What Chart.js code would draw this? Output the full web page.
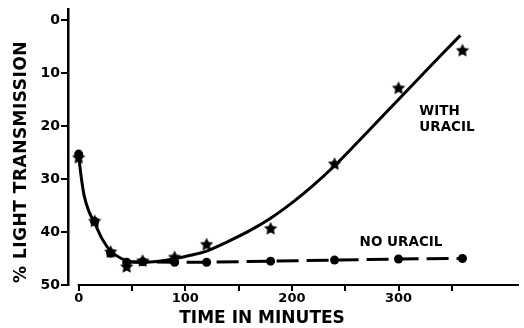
<!DOCTYPE html>
<html><head><meta charset="utf-8">
<script src="https://cdn.jsdelivr.net/npm/chart.js@4.4.1/dist/chart.umd.min.js"></script>
<style>html,body{margin:0;padding:0;background:#fff}</style>
</head><body>
<canvas id="c" width="524" height="328"></canvas>
<script>
// ---- data ----
const times      = [0, 15, 30, 45, 60, 90, 120, 180, 240, 300, 360];
const withUracil = [26, 38, 43.8, 46.6, 45.5, 44.8, 42.4, 39.4, 27.2, 12.9, 5.8];
const noUracil   = [25.3, 38, 44, 45.7, 45.6, 45.7, 45.7, 45.5, 45.3, 45.1, 45.0];
// hand-drawn curve through the "with uracil" points
const fitTimes   = [0, 2, 5, 10, 15, 22, 30, 40, 50, 60, 75, 90, 105, 120, 140, 160, 180, 200, 220, 240, 260, 280, 300, 320, 340, 358];
const fitValues  = [25.5, 29, 33, 36.3, 38.3, 41.3, 43.6, 45.0, 45.6, 45.7, 45.5, 45.05, 44.4, 43.6, 41.8, 39.8, 37.4, 34.5, 31.2, 27.5, 23.4, 19.2, 15.0, 10.8, 6.6, 2.9];
const xTicks     = [0, 50, 100, 150, 200, 250, 300, 350];
const xLabels    = ['0', '', '100', '', '200', '', '300', ''];
const yTicks     = [0, 10, 20, 30, 40, 50];
const xTitle     = 'TIME IN MINUTES';
const yTitle     = '% LIGHT TRANSMISSION';
const labelWith  = ['WITH', 'URACIL'];
const labelNo    = 'NO URACIL';

const FONT = "'DejaVu Sans', 'Liberation Sans', sans-serif";

function makeStar(r) {
  const s = Math.ceil(r * 2 + 2);
  const c = document.createElement('canvas');
  c.width = s; c.height = s;
  const g = c.getContext('2d');
  g.fillStyle = '#000';
  g.beginPath();
  for (let i = 0; i < 10; i++) {
    const a = -Math.PI / 2 + i * Math.PI / 5;
    const rr = i % 2 ? r * 0.5 : r;
    g.lineTo(s / 2 + rr * Math.cos(a), s / 2 + rr * Math.sin(a));
  }
  g.closePath();
  g.fill();
  return c;
}
const star = makeStar(7);

const textPlugin = {
  id: 'extras',
  afterDraw(chart) {
    const ctx = chart.ctx;
    const x = chart.scales.x, y = chart.scales.y;
    const ca = chart.chartArea;
    ctx.save();
    // x axis line starting at t = 0
    ctx.strokeStyle = '#000';
    ctx.lineWidth = 2;
    ctx.beginPath();
    ctx.moveTo(x.getPixelForValue(0) - 1, ca.bottom);
    ctx.lineTo(ca.right, ca.bottom);
    ctx.stroke();
    ctx.fillStyle = '#000';
    // axis titles
    ctx.font = 'bold 17px ' + FONT;
    ctx.textBaseline = 'middle';
    ctx.textAlign = 'center';
    ctx.fillText(xTitle, x.getPixelForValue(172), 319);
    ctx.save();
    ctx.translate(22, ca.bottom - 2);
    ctx.rotate(-Math.PI / 2);
    ctx.textAlign = 'left';
    ctx.letterSpacing = '0.5px';
    ctx.fillText(yTitle, 0, 0);
    ctx.restore();
    // annotations
    ctx.font = 'bold 13.5px ' + FONT;
    ctx.textAlign = 'left';
    ctx.textBaseline = 'middle';
    ctx.fillText(labelWith[0], x.getPixelForValue(319.5), y.getPixelForValue(17.3));
    ctx.fillText(labelWith[1], x.getPixelForValue(319.5), y.getPixelForValue(20.3));
    ctx.fillText(labelNo, x.getPixelForValue(263.5), y.getPixelForValue(42.0));
    ctx.restore();
  }
};

new Chart(document.getElementById('c'), {
  type: 'scatter',
  data: {
    datasets: [
      {
        label: 'fit',
        data: fitTimes.map((t, i) => ({x: t, y: fitValues[i]})),
        showLine: true,
        borderColor: '#000',
        borderWidth: 3,
        pointRadius: 0,
        cubicInterpolationMode: 'monotone',
        order: 3
      },
      {
        label: 'No uracil',
        data: times.map((t, i) => ({x: t, y: noUracil[i]})),
        showLine: true,
        borderColor: '#000',
        borderWidth: 3,
        borderDash: [22, 8],
        segment: {
          borderColor: c => c.p0.parsed.x < 45 ? 'rgba(0,0,0,0)' : '#000'
        },
        pointStyle: 'circle',
        pointRadius: 4.5,
        pointBackgroundColor: '#000',
        pointBorderWidth: 0,
        order: 2
      },
      {
        label: 'With uracil',
        data: times.map((t, i) => ({x: t, y: withUracil[i]})),
        showLine: false,
        pointStyle: star,
        order: 1
      }
    ]
  },
  options: {
    responsive: false,
    animation: false,
    events: [],
    layout: { padding: { top: 7, right: 0, left: 0, bottom: 0 } },
    plugins: { legend: { display: false }, tooltip: { enabled: false } },
    scales: {
      x: {
        type: 'linear',
        min: -10,
        max: 413,
        afterFit: s => { s.height = 43; },
        afterBuildTicks: s => { s.ticks = xTicks.map(v => ({value: v})); },
        border: { display: false },
        grid: { drawOnChartArea: false, drawTicks: true, tickLength: 6, color: '#000', lineWidth: 2 },
        ticks: {
          color: '#000',
          padding: 0,
          maxRotation: 0,
          autoSkip: false,
          font: { family: FONT, weight: 'bold', size: 13 },
          callback: (v) => { const i = xTicks.indexOf(v); return i >= 0 ? xLabels[i] : ''; }
        },
        title: { display: false }
      },
      y: {
        type: 'linear',
        reverse: true,
        min: -2,
        max: 50,
        afterFit: s => { s.width = 68; },
        afterBuildTicks: s => { s.ticks = yTicks.map(v => ({value: v})); },
        border: { display: true, color: '#000', width: 2.5 },
        grid: { drawOnChartArea: false, drawTicks: true, tickLength: 7, color: '#000', lineWidth: 2 },
        ticks: {
          color: '#000',
          padding: 1,
          font: { family: FONT, weight: 'bold', size: 14 }
        },
        title: { display: false }
      }
    }
  },
  plugins: [textPlugin]
});
</script>
</body></html>
